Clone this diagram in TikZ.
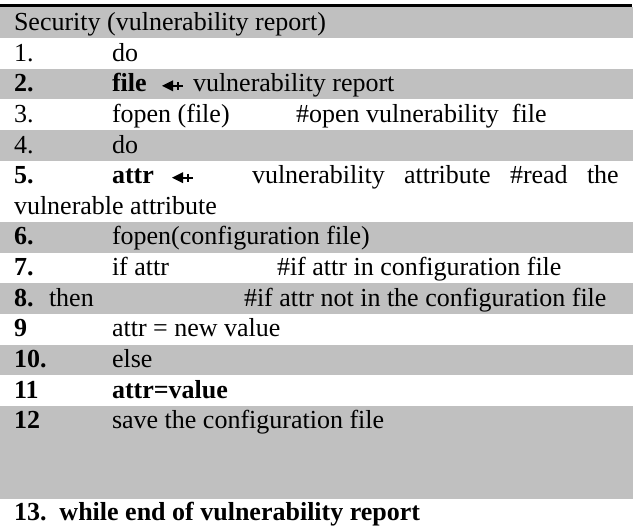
\documentclass[tikz,border=0pt]{standalone}
\usepackage{fontspec}
\setmainfont{Liberation Serif}
\definecolor{graybar}{HTML}{C0C0C0}
\begin{document}
\begin{tikzpicture}[x=1pt,y=-1pt,
  txt/.style={anchor=base west,inner sep=0pt,outer sep=0pt,font=\fontsize{26}{30}\selectfont},
  btxt/.style={anchor=base west,inner sep=0pt,outer sep=0pt,font=\fontsize{26}{30}\selectfont\bfseries},
  bar/.style={fill=graybar,draw=none},
  arrowhead/.style={fill=black,draw=none},
  arrowshaft/.style={draw=black,line width=2pt},
  arrowtick/.style={draw=black,line width=1.6pt}]
\useasboundingbox (0,0) rectangle (633,526);
% top rule
\fill[black] (0,4.5) rectangle (632,7.5);
% shaded rows
\foreach \t/\b in {7.5/38.1, 68.8/99.4, 130.1/160.7, 222.0/252.7, 283.3/314.0, 344.6/375.3, 405.9/499}
  \path[bar] (0,\t) rectangle (633,\b);
% row 0
\node[txt] (r0) at (14,30.5) {Security (vulnerability report)};
% row 1
\node[txt] (n1) at (14,61.1) {1.};
\node[txt] (t1) at (112,61.1) {do};
% row 2
\node[btxt] (n2) at (14,91.8) {2.};
\node[btxt] (t2) at (112,91.8) {file};
\coordinate (a2) at (162,85.8);
\path[arrowhead] (a2) -- ++(11,-5.5) -- ++(0,11) -- cycle;
\draw[arrowshaft] ([xshift=9pt]a2) -- ++(12,0);
\draw[arrowtick] ([xshift=16pt,yshift=4pt]a2) -- ++(0,8);
\node[txt] (t2b) at (193,91.8) {vulnerability report};
% row 3
\node[txt] (n3) at (14,122.4) {3.};
\node[txt] (t3) at (112,122.4) {fopen (file)};
\node[txt] (c3) at (296,122.4) {\#open vulnerability\ \ file};
% row 4
\node[txt] (n4) at (14,153.1) {4.};
\node[txt] (t4) at (112,153.1) {do};
% row 5
\node[btxt] (n5) at (14,183.7) {5.};
\node[btxt] (t5) at (112,183.7) {attr};
\coordinate (a5) at (172,177.7);
\path[arrowhead] (a5) -- ++(11,-5.5) -- ++(0,11) -- cycle;
\draw[arrowshaft] ([xshift=9pt]a5) -- ++(12,0);
\draw[arrowtick] ([xshift=16pt,yshift=4pt]a5) -- ++(0,8);
\node[txt] (w51) at (252,183.7) {vulnerability};
\node[txt] (w52) at (404,183.7) {attribute};
\node[txt] (w53) at (510,183.7) {\#read};
\node[txt] (w54) at (587,183.7) {the};
\node[txt] (t5b) at (14,214.4) {vulnerable attribute};
% row 6
\node[btxt] (n6) at (14,245.0) {6.};
\node[txt] (t6) at (112,245.0) {fopen(configuration file)};
% row 7
\node[btxt] (n7) at (14,275.7) {7.};
\node[txt] (t7) at (112,275.7) {if attr};
\node[txt] (c7) at (277,275.7) {\#if attr in configuration file};
% row 8
\node[btxt] (n8) at (14,306.3) {8.};
\node[txt] (t8) at (49,306.3) {then};
\node[txt] (c8) at (244,306.3) {\#if attr not in the configuration file};
% row 9
\node[btxt] (n9) at (14,337.0) {9};
\node[txt] (t9) at (112,337.0) {attr = new value};
% row 10
\node[btxt] (n10) at (14,367.6) {10.};
\node[txt] (t10) at (112,367.6) {else};
% row 11
\node[btxt] (n11) at (14,398.3) {11};
\node[btxt] (t11) at (112,398.3) {attr=value};
% row 12
\node[btxt] (n12) at (14,428.9) {12};
\node[txt] (t12) at (112,428.9) {save the configuration file};
% row 13
\node[btxt] (n13) at (14,521) {13.\ \ while end of vulnerability report};
\end{tikzpicture}
\end{document}
